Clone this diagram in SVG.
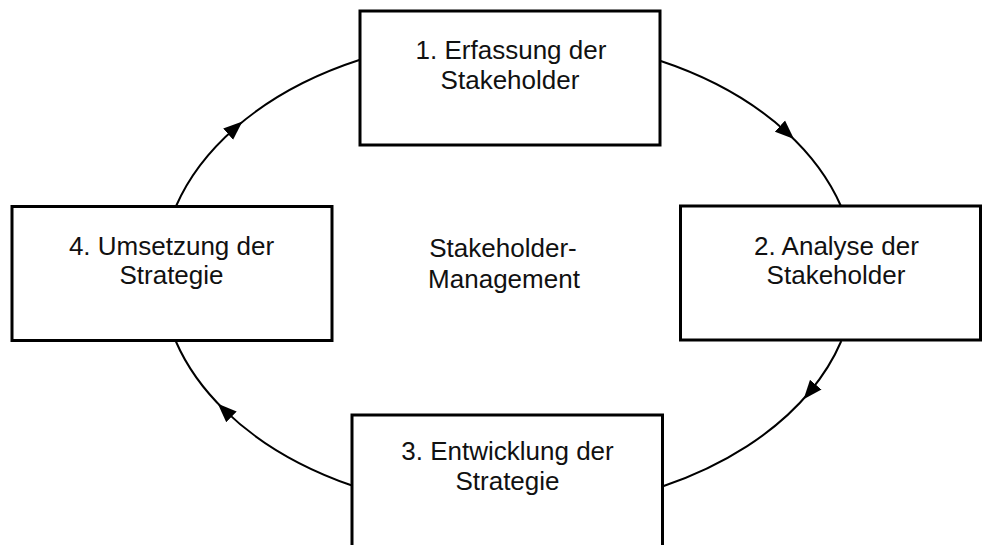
<svg xmlns="http://www.w3.org/2000/svg" width="982" height="545" viewBox="0 0 982 545">
  <style>
    .box { fill: #ffffff; stroke: #000000; stroke-width: 3; }
    .label { font-family: "Liberation Sans", Arial, Helvetica, sans-serif; font-size: 26px; fill: #111111; text-anchor: middle; }
    .flow { fill: none; stroke: #000000; stroke-width: 2; marker-mid: url(#arrow); }
  </style>
  <defs>
    <marker id="arrow" markerUnits="userSpaceOnUse" markerWidth="19" markerHeight="16" refX="9" refY="8" orient="auto" viewBox="0 0 19 16">
      <path d="M0,0.5 L19,8 L0,15.5 z" fill="#000000"/>
    </marker>
  </defs>

  <rect width="982" height="545" fill="#ffffff"/>

  <!-- cycle: four elliptical arcs, one arrowhead on each -->
  <g id="connectors">
    <path class="flow" d="M176.1,206 A347,237 0 0 1 234.9,128.2 A347,237 0 0 1 360,59.8"/>
    <path class="flow" d="M660,60.8 A347,237 0 0 1 786.6,132.2 A347,237 0 0 1 840.9,206"/>
    <path class="flow" d="M841.3,341 A347,237 0 0 1 810,391.5 A347,237 0 0 1 663,486.2"/>
    <path class="flow" d="M352,485.5 A347,237 0 0 1 225,410.6 A347,237 0 0 1 175.7,341"/>
  </g>

  <g id="center-label">
    <text class="label" x="503" y="257">Stakeholder-</text>
    <text class="label" x="504" y="288">Management</text>
  </g>

  <g id="node-1">
    <rect class="box" x="360" y="11" width="300" height="134"/>
    <text class="label" x="511" y="59">1. Erfassung der</text>
    <text class="label" x="510" y="89">Stakeholder</text>
  </g>

  <g id="node-2">
    <rect class="box" x="680.5" y="206" width="300" height="134"/>
    <text class="label" x="836.5" y="255">2. Analyse der</text>
    <text class="label" x="836" y="284">Stakeholder</text>
  </g>

  <g id="node-3">
    <rect class="box" x="352" y="415" width="310.5" height="160"/>
    <text class="label" x="507.5" y="460">3. Entwicklung der</text>
    <text class="label" x="507.5" y="490">Strategie</text>
  </g>

  <g id="node-4">
    <rect class="box" x="12" y="206.5" width="320" height="134"/>
    <text class="label" x="171.5" y="255">4. Umsetzung der</text>
    <text class="label" x="171.5" y="284">Strategie</text>
  </g>
</svg>
